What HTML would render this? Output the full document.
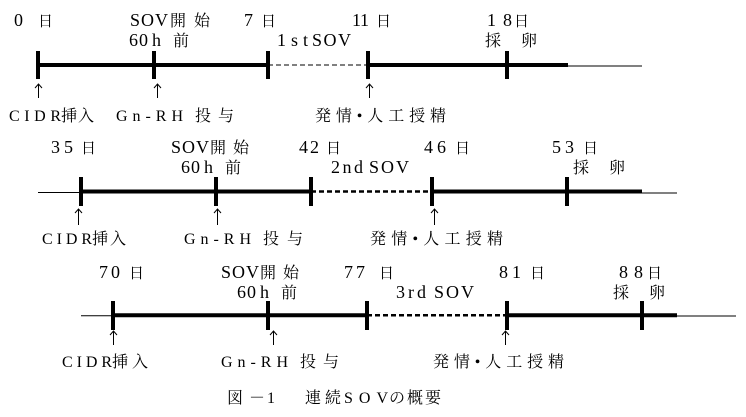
<!DOCTYPE html>
<html><head><meta charset="utf-8"><style>
html,body{margin:0;padding:0;background:#fff;}
svg{display:block;}
text{font-family:"Liberation Serif","Noto Serif CJK SC","Noto Sans CJK JP",serif;font-size:18px;fill:#000;}
text.j{font-family:"Noto Serif CJK SC","Noto Sans CJK JP",serif;font-size:16px;}
text.s{font-family:"Noto Serif CJK SC","Noto Sans CJK JP",serif;font-size:15px;}
text.b{font-size:16px;}
tspan.d{font-family:"Liberation Serif",serif;}
</style></head><body>
<svg width="746" height="417" viewBox="0 0 746 417" xmlns="http://www.w3.org/2000/svg">
<g stroke="#000" fill="none">
<!-- Row 1 -->
<line x1="38" y1="65" x2="268" y2="65" stroke-width="4"/>
<line x1="268" y1="65" x2="368" y2="65" stroke-width="1" stroke-dasharray="5,3"/>
<line x1="368" y1="65" x2="568" y2="65" stroke-width="4"/>
<line x1="566" y1="66" x2="642" y2="66" stroke-width="1"/>
<line x1="38" y1="51" x2="38" y2="79" stroke-width="4"/>
<line x1="154" y1="51" x2="154" y2="79" stroke-width="4"/>
<line x1="268" y1="51" x2="268" y2="79" stroke-width="4"/>
<line x1="368" y1="51" x2="368" y2="79" stroke-width="4"/>
<line x1="507" y1="51" x2="507" y2="79" stroke-width="4"/>
<!-- Row 2 -->
<line x1="38" y1="192.5" x2="80" y2="192.5" stroke-width="1"/>
<line x1="80" y1="191.5" x2="311" y2="191.5" stroke-width="4"/>
<line x1="311" y1="191.5" x2="432" y2="191.5" stroke-width="2.5" stroke-dasharray="5,3"/>
<line x1="432" y1="191.5" x2="642" y2="191.5" stroke-width="4"/>
<line x1="640" y1="193" x2="677" y2="193" stroke-width="1"/>
<line x1="81" y1="177" x2="81" y2="206" stroke-width="4"/>
<line x1="216" y1="177" x2="216" y2="206" stroke-width="4"/>
<line x1="311" y1="177" x2="311" y2="206" stroke-width="4"/>
<line x1="432" y1="177" x2="432" y2="206" stroke-width="4"/>
<line x1="567" y1="177" x2="567" y2="206" stroke-width="4"/>
<!-- Row 3 -->
<line x1="81" y1="315.7" x2="113" y2="315.7" stroke-width="1"/>
<line x1="113" y1="315.3" x2="367" y2="315.3" stroke-width="4"/>
<line x1="367" y1="315.3" x2="507" y2="315.3" stroke-width="2.5" stroke-dasharray="5,3"/>
<line x1="507" y1="315.3" x2="677" y2="315.3" stroke-width="4"/>
<line x1="675" y1="316" x2="736" y2="316" stroke-width="1"/>
<line x1="113" y1="301" x2="113" y2="330" stroke-width="4"/>
<line x1="268" y1="301" x2="268" y2="330" stroke-width="4"/>
<line x1="367" y1="301" x2="367" y2="330" stroke-width="4"/>
<line x1="507" y1="301" x2="507" y2="330" stroke-width="4"/>
<line x1="642" y1="301" x2="642" y2="330" stroke-width="4"/>
</g>
<!-- arrows -->
<g stroke="#000" stroke-width="1" fill="none">
<path d="M38.5 84 V98 M35 88 L38.5 84 L42 88"/>
<path d="M157.5 84 V98 M154 88 L157.5 84 L161 88"/>
<path d="M369.5 84 V98 M366 88 L369.5 84 L373 88"/>
<path d="M78.5 209 V225 M75 213 L78.5 209 L82 213"/>
<path d="M217.5 209 V225 M214 213 L217.5 209 L221 213"/>
<path d="M434.5 209 V225 M431 213 L434.5 209 L438 213"/>
<path d="M113.5 331 V345 M110 335 L113.5 331 L117 335"/>
<path d="M273.5 331 V345 M270 335 L273.5 331 L277 335"/>
<path d="M505.5 331 V345 M502 335 L505.5 331 L509 335"/>
</g>
<!-- Row 1 text -->
<text x="14" y="26">0</text><text class="s" x="38" y="26">日</text>
<text x="130" y="26" textLength="38" lengthAdjust="spacing">SOV</text><text class="j" x="170" y="26" textLength="40" lengthAdjust="spacing">開始</text>
<text x="244" y="26">7</text><text class="s" x="261" y="26">日</text>
<text x="352" y="26" textLength="17" lengthAdjust="spacing">11</text><text class="s" x="376" y="26">日</text>
<text x="487" y="26" textLength="25" lengthAdjust="spacing">18</text><text class="s" x="514" y="26">日</text>
<text x="129" y="46" textLength="19" lengthAdjust="spacing">60</text><text x="152" y="46">h</text><text class="j" x="173" y="46">前</text>
<text x="277" y="46" textLength="31" lengthAdjust="spacing">1st</text><text x="312" y="46" textLength="39" lengthAdjust="spacing">SOV</text>
<text class="j" x="485" y="46">採</text><text class="j" x="521" y="46">卵</text>
<text class="b" x="9" y="121" textLength="52" lengthAdjust="spacing">CIDR</text><text class="j" x="61" y="121" textLength="33" lengthAdjust="spacing">挿入</text>
<text class="b" x="116" y="121" textLength="67" lengthAdjust="spacing">Gn-RH</text>
<text class="j" x="195" y="121" textLength="39" lengthAdjust="spacing">投与</text>
<text class="j" x="315" y="121" textLength="131" lengthAdjust="spacing">発情<tspan class="d">•</tspan>人工授精</text>
<!-- Row 2 text -->
<text x="51" y="153" textLength="22" lengthAdjust="spacing">35</text><text class="s" x="81" y="153">日</text>
<text x="171" y="153" textLength="38" lengthAdjust="spacing">SOV</text><text class="j" x="210" y="153" textLength="39" lengthAdjust="spacing">開始</text>
<text x="299" y="153" textLength="20" lengthAdjust="spacing">42</text><text class="s" x="326" y="153">日</text>
<text x="424" y="153" textLength="22" lengthAdjust="spacing">46</text><text class="s" x="455" y="153">日</text>
<text x="552" y="153" textLength="22" lengthAdjust="spacing">53</text><text class="s" x="583" y="153">日</text>
<text x="181" y="173" textLength="19" lengthAdjust="spacing">60</text><text x="204" y="173">h</text><text class="j" x="225" y="173">前</text>
<text x="331" y="173" textLength="32" lengthAdjust="spacing">2nd</text><text x="369" y="173" textLength="40" lengthAdjust="spacing">SOV</text>
<text class="j" x="573" y="173">採</text><text class="j" x="609" y="173">卵</text>
<text class="b" x="42" y="244" textLength="50" lengthAdjust="spacing">CIDR</text><text class="j" x="92" y="244" textLength="34" lengthAdjust="spacing">挿入</text>
<text class="b" x="184" y="244" textLength="67" lengthAdjust="spacing">Gn-RH</text>
<text class="j" x="263" y="244" textLength="40" lengthAdjust="spacing">投与</text>
<text class="j" x="370" y="244" textLength="133" lengthAdjust="spacing">発情<tspan class="d">•</tspan>人工授精</text>
<!-- Row 3 text -->
<text x="99" y="278" textLength="21" lengthAdjust="spacing">70</text><text class="s" x="129" y="278">日</text>
<text x="221" y="278" textLength="38" lengthAdjust="spacing">SOV</text><text class="j" x="260" y="278" textLength="39" lengthAdjust="spacing">開始</text>
<text x="344" y="278" textLength="21" lengthAdjust="spacing">77</text><text class="s" x="379" y="278">日</text>
<text x="499" y="278" textLength="22" lengthAdjust="spacing">81</text><text class="s" x="530" y="278">日</text>
<text x="619" y="278" textLength="24" lengthAdjust="spacing">88</text><text class="s" x="647" y="278">日</text>
<text x="237" y="298" textLength="19" lengthAdjust="spacing">60</text><text x="260" y="298">h</text><text class="j" x="281" y="298">前</text>
<text x="396" y="298" textLength="30" lengthAdjust="spacing">3rd</text><text x="434" y="298" textLength="40" lengthAdjust="spacing">SOV</text>
<text class="j" x="613" y="298">採</text><text class="j" x="649" y="298">卵</text>
<text class="b" x="62" y="367" textLength="50" lengthAdjust="spacing">CIDR</text><text class="j" x="112" y="367" textLength="36" lengthAdjust="spacing">挿入</text>
<text class="b" x="221" y="367" textLength="67" lengthAdjust="spacing">Gn-RH</text>
<text class="j" x="300" y="367" textLength="39" lengthAdjust="spacing">投与</text>
<text class="j" x="433" y="367" textLength="131" lengthAdjust="spacing">発情<tspan class="d">•</tspan>人工授精</text>
<!-- caption -->
<text class="j" x="227" y="403">図</text><text class="j" x="249" y="403">－</text><text class="b" x="267" y="403">1</text>
<text class="j" x="305" y="403" textLength="36" lengthAdjust="spacing">連続</text>
<text class="b" x="344" y="403" textLength="44" lengthAdjust="spacing">SOV</text>
<text class="j" x="389" y="403" textLength="52" lengthAdjust="spacing">の概要</text>
</svg>
</body></html>
